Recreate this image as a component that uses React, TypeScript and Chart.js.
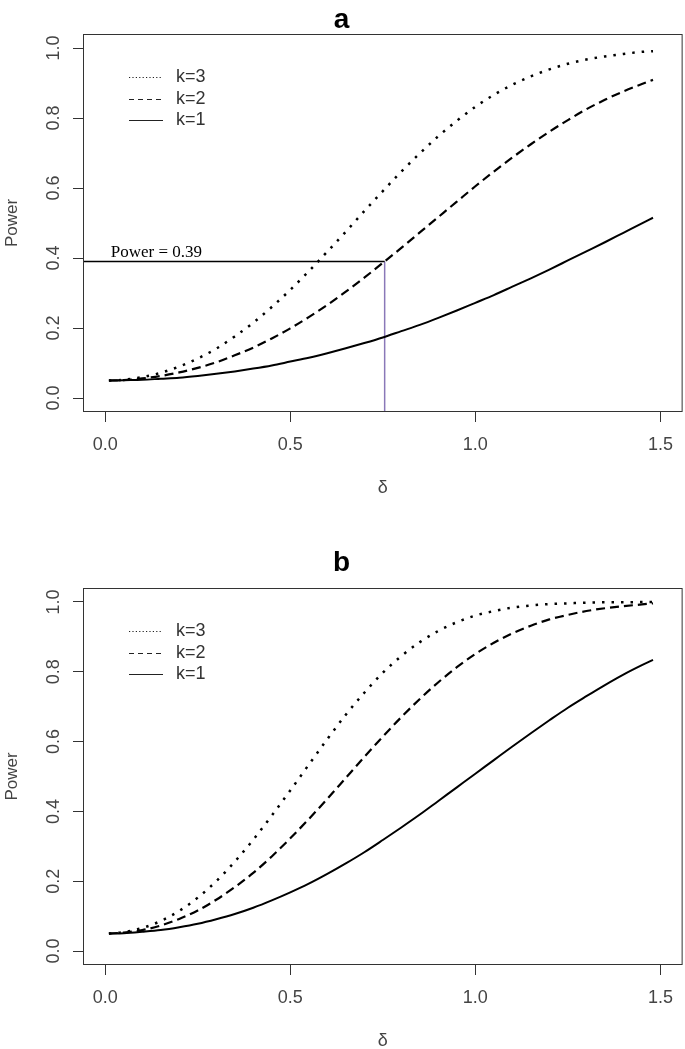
import React, { useEffect, useRef } from 'react';
import { Chart, registerables } from 'chart.js';

Chart.register(...registerables);

// ---------- data ----------
const delta = [0.01, 0.05, 0.1, 0.15, 0.2, 0.25, 0.3, 0.35, 0.4, 0.45, 0.5, 0.55, 0.6, 0.65, 0.7, 0.75, 0.8, 0.85, 0.9, 0.95, 1.0, 1.05, 1.1, 1.15, 1.2, 1.25, 1.3, 1.35, 1.4, 1.45, 1.48];

const powerA_k3 = [0.05, 0.052, 0.06, 0.072, 0.09, 0.113, 0.141, 0.176, 0.215, 0.26, 0.309, 0.362, 0.418, 0.475, 0.534, 0.591, 0.647, 0.699, 0.748, 0.792, 0.832, 0.866, 0.895, 0.919, 0.939, 0.955, 0.967, 0.976, 0.983, 0.989, 0.991];
const powerA_k2 = [0.05, 0.051, 0.056, 0.063, 0.073, 0.086, 0.102, 0.122, 0.144, 0.17, 0.199, 0.231, 0.266, 0.304, 0.344, 0.386, 0.429, 0.473, 0.517, 0.561, 0.605, 0.647, 0.687, 0.725, 0.761, 0.794, 0.825, 0.852, 0.876, 0.897, 0.909];
const powerA_k1 = [0.05, 0.051, 0.052, 0.055, 0.058, 0.063, 0.069, 0.076, 0.084, 0.093, 0.104, 0.115, 0.128, 0.142, 0.157, 0.173, 0.191, 0.209, 0.229, 0.25, 0.272, 0.294, 0.318, 0.342, 0.367, 0.393, 0.419, 0.445, 0.472, 0.499, 0.515];

const powerB_k3 = [0.05, 0.054, 0.066, 0.086, 0.115, 0.153, 0.2, 0.256, 0.319, 0.388, 0.46, 0.534, 0.607, 0.677, 0.74, 0.797, 0.845, 0.885, 0.917, 0.942, 0.961, 0.974, 0.984, 0.99, 0.994, 0.996, 0.998, 0.999, 0.999, 1.0, 1.0];
const powerB_k2 = [0.05, 0.053, 0.06, 0.073, 0.092, 0.116, 0.147, 0.183, 0.224, 0.271, 0.323, 0.378, 0.436, 0.496, 0.556, 0.614, 0.67, 0.722, 0.77, 0.813, 0.851, 0.883, 0.91, 0.932, 0.95, 0.963, 0.974, 0.982, 0.988, 0.993, 0.996];
const powerB_k1 = [0.05, 0.051, 0.055, 0.06, 0.068, 0.078, 0.091, 0.106, 0.124, 0.145, 0.168, 0.193, 0.221, 0.251, 0.283, 0.318, 0.354, 0.391, 0.43, 0.469, 0.508, 0.547, 0.586, 0.624, 0.661, 0.697, 0.73, 0.762, 0.792, 0.819, 0.834];

const seriesLabels = ['k=3', 'k=2', 'k=1'];
const xTickValues = [0, 0.5, 1.0, 1.5];
const xTickLabels = ['0.0', '0.5', '1.0', '1.5'];
const yTickValues = [0, 0.2, 0.4, 0.6, 0.8, 1.0];
const yTickLabels = ['0.0', '0.2', '0.4', '0.6', '0.8', '1.0'];
const refPower = 0.39;
const refDelta = 0.755;
const refLabel = 'Power = 0.39';
const xTitle = 'δ';
const yTitle = 'Power';
const panelTitles = ['a', 'b'];

// ---------- styles ----------
const FONT = '"Liberation Sans", Arial, sans-serif';
const SERIF = '"Liberation Serif", "Times New Roman", serif';
const X_MIN = -0.06;
const X_MAX = 1.56;
const Y_MIN = -0.04;
const Y_MAX = 1.04;
const curveDashes = [[2.5, 7], [9, 5], []];
const curveWidths = [2.5, 2.2, 2];
const legendDashes = [[1.2, 2.2], [5, 4], []];
const TEXT = '#444';
const AXIS = '#333';
const PURPLE = '#8a78b8';

const decorPlugin = {
  id: 'rDecor',
  afterDraw(chart: any, _args: any, opts: any) {
    const { ctx, chartArea: a, scales } = chart;
    ctx.save();
    // box
    ctx.setLineDash([]);
    ctx.strokeStyle = AXIS;
    ctx.lineWidth = 1;
    ctx.strokeRect(a.left + 0.5, a.top + 0.5, a.right - a.left - 1, a.bottom - a.top - 1);
    // legend
    ctx.font = `18px ${FONT}`;
    ctx.textBaseline = 'middle';
    ctx.textAlign = 'left';
    seriesLabels.forEach((lab, i) => {
      const y = Math.round(a.top + 43 + i * 21.5) + 0.5;
      ctx.beginPath();
      ctx.setLineDash(legendDashes[i]);
      ctx.strokeStyle = '#222';
      ctx.lineWidth = 1;
      ctx.moveTo(a.left + 46, y);
      ctx.lineTo(a.left + 80, y);
      ctx.stroke();
      ctx.setLineDash([]);
      ctx.fillStyle = '#333';
      ctx.fillText(lab, a.left + 93, y);
    });
    if (opts && opts.showRef) {
      const x = scales.x.getPixelForValue(0.015);
      const y = scales.y.getPixelForValue(refPower) - 5;
      ctx.font = `17px ${SERIF}`;
      ctx.fillStyle = '#000';
      ctx.textBaseline = 'alphabetic';
      ctx.fillText(refLabel, x, y);
    }
    ctx.restore();
  },
};

type PanelSpec = {
  title: string;
  series: number[][];
  showRef: boolean;
  height: number;
  top: number;
  titlePadBottom: number;
  padBottom: number;
};

function buildConfig(spec: PanelSpec): any {
  const datasets: any[] = spec.series.map((s, i) => ({
    label: seriesLabels[i],
    data: delta.map((d, j) => ({ x: d, y: s[j] })),
    borderColor: '#000',
    borderWidth: curveWidths[i],
    borderDash: curveDashes[i],
    borderCapStyle: 'butt',
    pointRadius: 0,
    cubicInterpolationMode: 'monotone',
    fill: false,
  }));
  if (spec.showRef) {
    datasets.push({
      label: 'ref-h',
      data: [{ x: X_MIN, y: refPower }, { x: refDelta, y: refPower }],
      borderColor: '#000',
      borderWidth: 1.5,
      pointRadius: 0,
      fill: false,
    });
    datasets.push({
      label: 'ref-v',
      data: [{ x: refDelta, y: refPower }, { x: refDelta, y: Y_MIN }],
      borderColor: PURPLE,
      borderWidth: 1.5,
      pointRadius: 0,
      fill: false,
    });
  }
  return {
    type: 'line',
    data: { datasets },
    plugins: [decorPlugin],
    options: {
      animation: false,
      responsive: false,
      devicePixelRatio: 1,
      events: [],
      layout: { padding: { left: 0, right: 2, top: 0, bottom: spec.padBottom } },
      plugins: {
        legend: { display: false },
        tooltip: { enabled: false },
        title: {
          display: true,
          text: spec.title,
          color: '#000',
          font: { family: FONT, size: 28, weight: 'bold', lineHeight: 1 },
          padding: { top: 6, bottom: spec.titlePadBottom },
        },
        rDecor: { showRef: spec.showRef },
      },
      scales: {
        x: {
          type: 'linear',
          min: X_MIN,
          max: X_MAX,
          afterBuildTicks: (s: any) => {
            s.ticks = xTickValues.map((v) => ({ value: v }));
          },
          afterFit: (s: any) => {
            s.height = 84;
          },
          grid: { display: true, drawOnChartArea: false, drawTicks: true, tickLength: 10, color: AXIS, lineWidth: 1 },
          border: { display: false },
          ticks: {
            autoSkip: false,
            maxRotation: 0,
            padding: 12,
            color: TEXT,
            font: { family: FONT, size: 18, lineHeight: 1.2 },
            callback: (_v: any, i: number) => xTickLabels[i],
          },
          title: {
            display: true,
            text: xTitle,
            color: TEXT,
            font: { family: FONT, size: 18, lineHeight: 1 },
            padding: { top: 0, bottom: -1 },
          },
        },
        y: {
          type: 'linear',
          min: Y_MIN,
          max: Y_MAX,
          afterBuildTicks: (s: any) => {
            s.ticks = yTickValues.map((v) => ({ value: v }));
          },
          afterFit: (s: any) => {
            s.width = 83;
          },
          grid: { display: true, drawOnChartArea: false, drawTicks: true, tickLength: 10, color: AXIS, lineWidth: 1 },
          border: { display: false },
          ticks: {
            autoSkip: false,
            minRotation: 90,
            maxRotation: 90,
            crossAlign: 'center',
            padding: 6,
            color: TEXT,
            font: { family: FONT, size: 18, lineHeight: 1.2 },
            callback: (_v: any, i: number) => yTickLabels[i],
          },
          title: {
            display: true,
            text: yTitle,
            color: TEXT,
            font: { family: FONT, size: 17, lineHeight: 1 },
            padding: { top: 4, bottom: 0 },
          },
        },
      },
    },
  };
}

function Panel({ spec }: { spec: PanelSpec }) {
  const ref = useRef<HTMLCanvasElement | null>(null);
  useEffect(() => {
    if (!ref.current) return;
    const chart = new Chart(ref.current, buildConfig(spec));
    return () => chart.destroy();
  }, [spec]);
  return (
    <canvas
      ref={ref}
      width={685}
      height={spec.height}
      style={{ position: 'absolute', left: 0, top: spec.top, width: 685, height: spec.height, display: 'block' }}
    />
  );
}

const panels: PanelSpec[] = [
  { title: panelTitles[0], series: [powerA_k3, powerA_k2, powerA_k1], showRef: true, height: 543, top: 0, titlePadBottom: 0, padBottom: 47 },
  { title: panelTitles[1], series: [powerB_k3, powerB_k2, powerB_k1], showRef: false, height: 506, top: 543, titlePadBottom: 11, padBottom: 0 },
];

export default function App() {
  return (
    <div style={{ position: 'absolute', left: 0, top: 0, width: 685, height: 1049, overflow: 'hidden', background: '#fff' }}>
      {panels.map((p, i) => (
        <Panel key={i} spec={p} />
      ))}
    </div>
  );
}
